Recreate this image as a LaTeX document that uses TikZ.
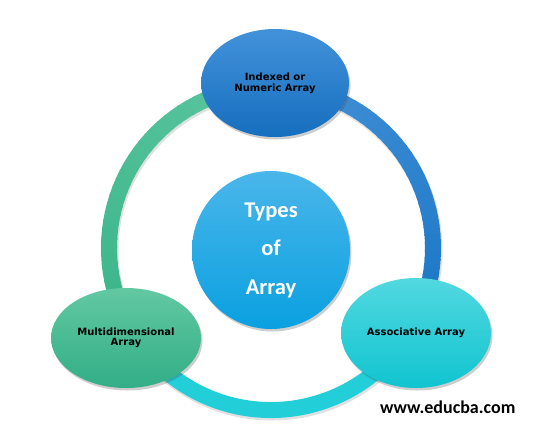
\documentclass[tikz,border=0pt]{standalone}
\usepackage{fontspec}
\newfontfamily\labfont{DejaVu Sans}
\newfontfamily\calfont{Carlito}
\usetikzlibrary{shapes.geometric,shadows}
\definecolor{gA}{RGB}{92,198,160}
\definecolor{gB}{RGB}{58,180,138}
\definecolor{bA}{RGB}{68,146,214}
\definecolor{bB}{RGB}{26,118,198}
\definecolor{cA}{RGB}{34,206,216}
\definecolor{cB}{RGB}{26,198,210}
\definecolor{topA}{RGB}{66,146,218}
\definecolor{topB}{RGB}{22,110,190}
\definecolor{leftA}{RGB}{98,200,162}
\definecolor{leftB}{RGB}{50,174,134}
\definecolor{rightA}{RGB}{82,216,224}
\definecolor{rightB}{RGB}{16,196,208}
\definecolor{midA}{RGB}{74,182,234}
\definecolor{midB}{RGB}{10,160,224}
\tikzset{
  shad/.style={drop shadow={opacity=0.28, shadow xshift=1.5pt, shadow yshift=-2.5pt, fill=black!70}},
  typebox/.style={ellipse, shad, font=\labfont\bfseries\fontsize{10}{11}\selectfont, align=center, inner sep=0pt},
  ringseg/.style={line width=16pt},
}
\begin{document}
\begin{tikzpicture}[x=1pt,y=-1pt]
\useasboundingbox (0,0) rectangle (543,432);
\fill[white] (0,0) rectangle (543,432);
\coordinate (rc) at (271,248);
% ring shadow
\draw[line width=17pt, black, opacity=0.12] ([shift={(1,2)}]rc) circle[radius=162];
% green arc (top -> left)
\foreach \t in {0,...,40}{
  \pgfmathsetmacro\sa{270-122*\t/41}
  \pgfmathsetmacro\ea{\sa-122/41-0.6}
  \pgfmathtruncatemacro\p{100-100*\t/40}
  \draw[ringseg, gA!\p!gB] (rc) ++(\sa:162) arc[start angle=\sa, end angle=\ea, radius=162];
}
% blue arc (top -> right)
\foreach \t in {0,...,40}{
  \pgfmathsetmacro\sa{270+120*\t/41}
  \pgfmathsetmacro\ea{\sa+120/41+0.6}
  \pgfmathtruncatemacro\p{100-100*\t/40}
  \draw[ringseg, bA!\p!bB] (rc) ++(\sa:162) arc[start angle=\sa, end angle=\ea, radius=162];
}
% cyan arc (right -> left, bottom)
\draw[ringseg, cA] (rc) ++(28:162) arc[start angle=28, end angle=152, radius=162];

\node[circle, minimum size=158pt, inner sep=0pt, shad, top color=midA, bottom color=midB,
      text=white, font=\calfont\bfseries\fontsize{22.5}{38.5}\selectfont, align=center]
  (center) at (271,250) {Types\\of\\Array};

\node[typebox, minimum width=148pt, minimum height=108pt, top color=topA, bottom color=topB]
  (indexed) at (275,83) {Indexed or\\Numeric Array};
\node[typebox, minimum width=150pt, minimum height=100pt, top color=leftA, bottom color=leftB]
  (multi) at (126,338) {\raisebox{2pt}{\shortstack{Multidimensional\\Array}}};
\node[typebox, minimum width=150pt, minimum height=110pt, top color=rightA, bottom color=rightB]
  (assoc) at (416,333) {Associative Array};

\node[anchor=base west, inner sep=0pt, font=\calfont\bfseries\fontsize{18}{20}\selectfont]
  (url) at (380,413) {www.educba.com};
\end{tikzpicture}
\end{document}
